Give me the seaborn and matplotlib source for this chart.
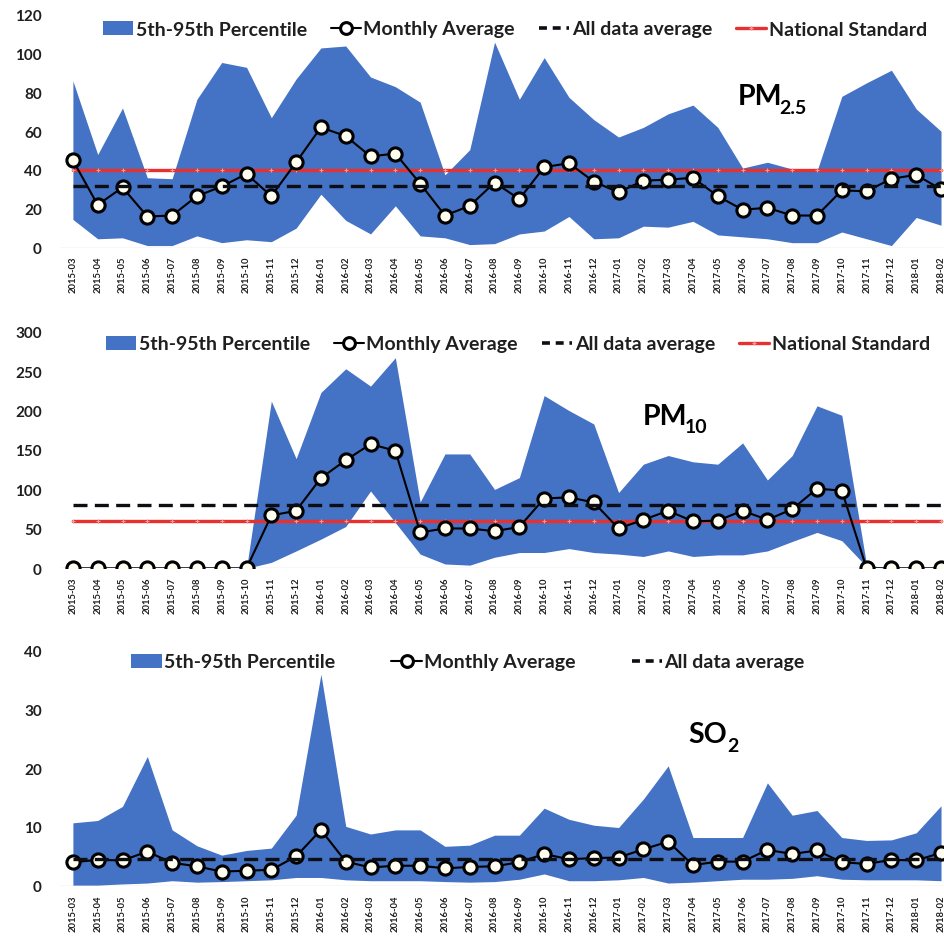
import numpy as np
import pandas as pd
import matplotlib
matplotlib.use("Agg")
import matplotlib.pyplot as plt
import seaborn as sns
from matplotlib.patches import Patch
from matplotlib.lines import Line2D

months = ['2015-03', '2015-04', '2015-05', '2015-06', '2015-07', '2015-08', '2015-09', '2015-10',
          '2015-11', '2015-12', '2016-01', '2016-02', '2016-03', '2016-04', '2016-05', '2016-06',
          '2016-07', '2016-08', '2016-09', '2016-10', '2016-11', '2016-12', '2017-01', '2017-02',
          '2017-03', '2017-04', '2017-05', '2017-06', '2017-07', '2017-08', '2017-09', '2017-10',
          '2017-11', '2017-12', '2018-01', '2018-02']

pm25_avg = [45, 22, 31, 16, 16.5, 26.5, 31.5, 38, 26.5, 44,
            62, 57.5, 47, 48.5, 33, 16.5, 21.5, 33.5, 25, 41.5, 43.5, 34,
            28.5, 34.5, 35, 36, 26.5, 19.5, 20.5, 16.5, 16.5, 29.5, 29, 35.5,
            37.5, 30]
pm25_p95 = [86, 48, 72, 36, 35.5, 76.5, 95.5, 93, 67, 87,
            103, 104, 88, 83, 75, 37.5, 50.5, 106, 76.5, 98, 77.5, 66,
            57, 62, 69, 73.5, 62, 41, 44, 40.5, 39.5, 78, 85, 91.5,
            71.5, 60]
pm25_p5 = [14.5, 4.5, 5, 1, 1, 6, 2.5, 4, 3, 10,
           27.5, 14, 7, 21.5, 6, 5, 1.5, 2, 7, 8.5, 16, 4.5,
           5, 11, 10.5, 13.5, 6.5, 5.5, 4.5, 2.5, 2.5, 8, 4.5, 1,
           15.5, 11.5]
pm25_all_avg = 32
pm25_standard = 40

pm10_avg = [0, 0, 0, 0, 0, 0, 0, 0, 67, 73,
            114.5, 137, 157.5, 149, 45.5, 50.5, 50.5, 47, 52.5, 88.5, 90, 83.5,
            50.5, 61.5, 73, 59.5, 60.5, 73, 61.5, 75, 101, 98.5, 0, 0,
            0, 0]
pm10_p95 = [0, 0, 0, 0, 0, 0, 0, 0, 212, 139,
            223, 253, 231, 267, 84, 145, 145, 100, 115, 219, 200, 183,
            96, 132, 143, 135, 132, 159, 112, 143, 206, 194, 4, 0,
            0, 0]
pm10_p5 = [0, 0, 0, 0, 0, 0, 0, 0, 7.5, 22,
           37, 53, 98, 58, 18, 5.5, 4, 14, 20, 20, 25, 20,
           18, 15, 22, 15, 17, 17, 22, 34, 45.5, 35, 2, 0,
           0, 0]
pm10_all_avg = 80
pm10_standard = 60

so2_avg = [4, 4.4, 4.3, 5.8, 3.9, 3.3, 2.4, 2.55, 2.7, 5,
           9.5, 4.1, 3.1, 3.4, 3.4, 2.95, 3.2, 3.3, 4, 5.4, 4.5, 4.7,
           4.8, 6.2, 7.5, 3.5, 4.1, 4.1, 6.1, 5.4, 6, 4, 3.7, 4.4,
           4.3, 5.6]
so2_p95 = [10.7, 11.1, 13.5, 22, 9.5, 6.8, 5.2, 6, 6.4, 12,
           36, 10.1, 8.8, 9.5, 9.5, 6.7, 6.9, 8.6, 8.6, 13.2, 11.3, 10.3,
           9.9, 14.75, 20.4, 8.2, 8.2, 8.2, 17.5, 12, 12.8, 8.2, 7.7, 7.8,
           9, 13.6]
so2_p5 = [0.1, 0.1, 0.3, 0.45, 0.85, 0.6, 0.7, 0.85, 1, 1.4,
          1.4, 1, 0.85, 0.85, 0.85, 0.7, 0.6, 0.7, 1.1, 2, 0.85, 0.85,
          1, 1.4, 0.45, 0.6, 0.85, 1.1, 1.1, 1.25, 1.7, 1.1, 1, 1,
          1, 0.85]
so2_all_avg = 4.6

sns.set_theme(style="white")
plt.rcParams['font.family'] = ['Lato', 'DejaVu Sans']

BLUE = '#4472C4'
RED = '#E8302E'
DARK = '#0d0d14'
TXT = '#1f1f1f'

W, H = 944, 937
fig = plt.figure(figsize=(W / 100, H / 100), dpi=100)

x = np.arange(len(months))


def make_ax(top_px, bottom_px):
    left_px, right_px = 60, 944
    return fig.add_axes([left_px / W, 1 - bottom_px / H, (right_px - left_px) / W,
                         (bottom_px - top_px) / H])


panels = [
    dict(top=16, bottom=248.5, ymax=120, step=20, avg=pm25_avg, p95=pm25_p95, p5=pm25_p5,
         all_avg=pm25_all_avg, std=pm25_standard, name='PM', sub='2.5', subdx=-2.0,
         tpos=(26.8, 74), leg_y=30, leg_x=515, colsp=1.25),
    dict(top=332.7, bottom=569.3, ymax=300, step=50, avg=pm10_avg, p95=pm10_p95, p5=pm10_p5,
         all_avg=pm10_all_avg, std=pm10_standard, name='PM', sub='10', subdx=-2.0,
         tpos=(22.97, 183), leg_y=345, leg_x=518, colsp=1.25),
    dict(top=651.7, bottom=886.7, ymax=40, step=10, avg=so2_avg, p95=so2_p95, p5=so2_p5,
         all_avg=so2_all_avg, std=None, name='SO', sub='2', subdx=0.3,
         tpos=(24.8, 24.4), leg_y=663, leg_x=468, colsp=2.9),
]

for p in panels:
    ax = make_ax(p['top'], p['bottom'])
    df = pd.DataFrame({'month': x, 'avg': p['avg'], 'p95': p['p95'], 'p5': p['p5']})
    ax.fill_between(df['month'], df['p5'], df['p95'], color=BLUE, lw=0, zorder=1)
    if p['std'] is not None:
        ax.plot(x, np.full(len(x), p['std']), color=RED, lw=2.4, zorder=2,
                marker='+', markersize=3, markeredgecolor='#f39a9a', markeredgewidth=0.8)
    sns.lineplot(data=df, x='month', y='avg', ax=ax, color='black', lw=1.5,
                 marker='o', markersize=9.5, markerfacecolor='#fffdf0',
                 markeredgecolor='black', markeredgewidth=2.2, zorder=3)
    ax.plot(x, np.full(len(x), p['all_avg']), color=DARK, lw=2.4, ls=(0, (4.2, 2.2)), zorder=4)

    ax.axhline(0, color='#d9d9d9', lw=1.0, zorder=0.5)
    ax.set_xlim(-0.52, 35.12)
    ax.set_ylim(0, p['ymax'])
    ax.set_yticks(np.arange(0, p['ymax'] + 1, p['step']))
    ax.set_xticks(x)
    ax.set_xticklabels(months, rotation=90, fontsize=6.8, fontweight='bold', color=TXT)
    for lab in ax.get_yticklabels():
        lab.set_fontweight('bold')
        lab.set_fontsize(11)
        lab.set_color(TXT)
    ax.tick_params(axis='y', length=0, pad=13)
    ax.tick_params(axis='x', length=0, pad=6)
    ax.set_xlabel('')
    ax.set_ylabel('')
    for s in ax.spines.values():
        s.set_visible(False)
    ax.patch.set_alpha(0)
    t = ax.text(p['tpos'][0], p['tpos'][1], p['name'], fontsize=20.5, fontweight='bold',
                ha='left', va='baseline', color='black', zorder=6)
    ax.annotate(p['sub'], xy=(1, 0), xycoords=t, xytext=(p['subdx'], -2.5),
                textcoords='offset points', fontsize=14, fontweight='bold',
                ha='left', va='baseline', color='black', zorder=6)

    handles = [Patch(facecolor=BLUE, edgecolor='none', label='5th-95th Percentile'),
               Line2D([0], [0], color='black', lw=1.5, marker='o', markersize=8.5,
                      markerfacecolor='white', markeredgecolor='black', markeredgewidth=2.2,
                      label='Monthly Average'),
               Line2D([0], [0], color=DARK, lw=2.6, ls=(0, (2.2, 1.6)), label='All data average')]
    if p['std'] is not None:
        handles.append(Line2D([0], [0], color=RED, lw=2.4, marker='+', markersize=3,
                              markeredgecolor='#f39a9a', label='National Standard'))
    leg = ax.legend(handles=handles, loc='center', ncol=len(handles),
                    bbox_to_anchor=(p['leg_x'] / W, 1 - p['leg_y'] / H),
                    bbox_transform=fig.transFigure, frameon=False,
                    prop={'family': ['Lato', 'DejaVu Sans'], 'weight': 'bold', 'size': 14},
                    handlelength=1.55, handleheight=0.75, handletextpad=0.12,
                    columnspacing=p['colsp'], borderpad=0, borderaxespad=0)
    for tx in leg.get_texts():
        tx.set_color(TXT)

fig.savefig('out.png', dpi=100)
